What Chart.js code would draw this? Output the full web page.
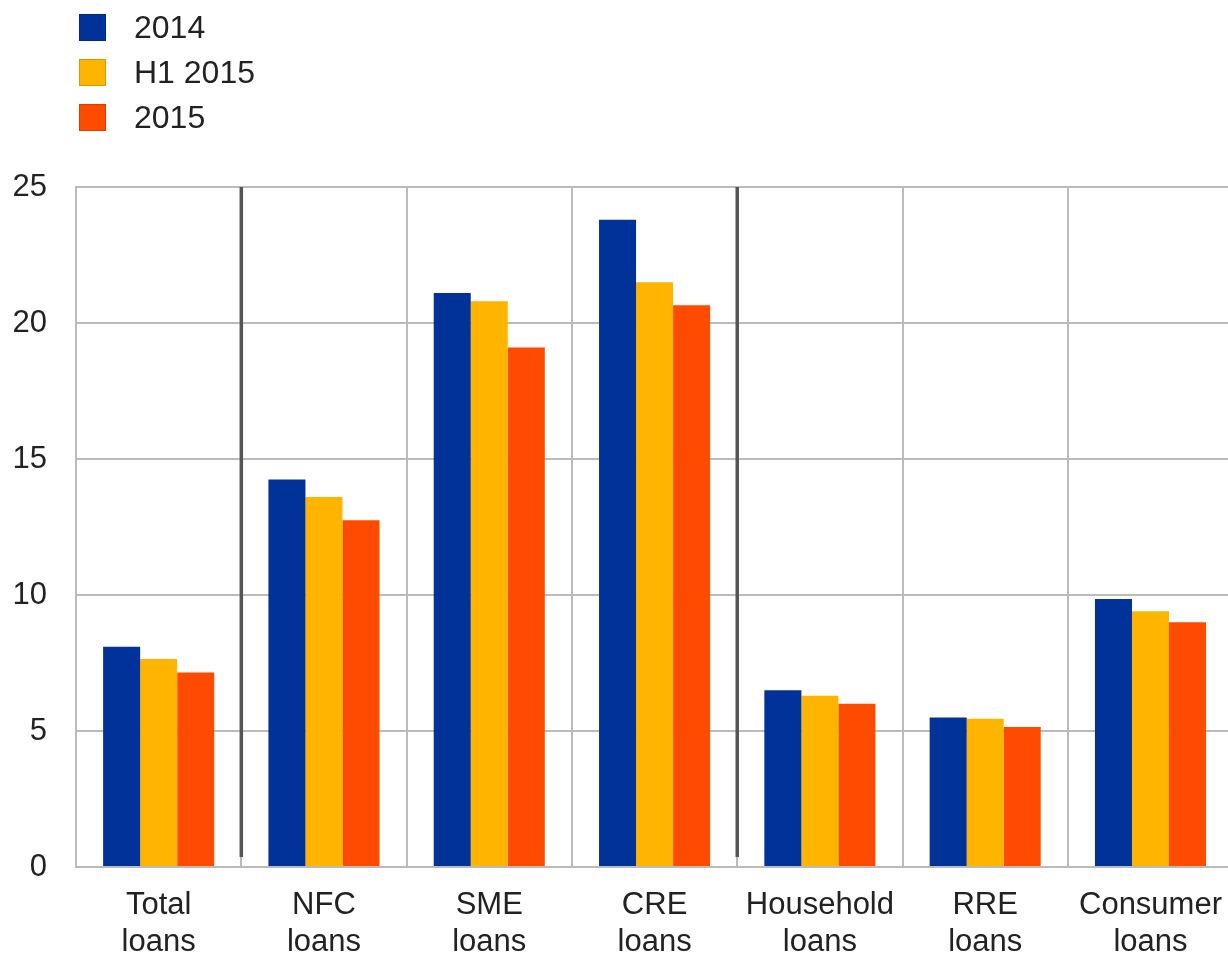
<!DOCTYPE html>
<html>
<head>
<meta charset="utf-8">
<script src="https://cdn.jsdelivr.net/npm/chart.js@4"></script>
<style>
  html, body { margin: 0; padding: 0; background: #fff; overflow: hidden; }
  #wrap { position: relative; width: 1242px; height: 955px; }
  #legend { position: absolute; left: 79px; top: 5px; font-family: "Liberation Sans", Arial, sans-serif; font-size: 32px; color: #222; }
  .item { display: flex; align-items: center; height: 45px; }
  .box { width: 27px; height: 27px; margin-right: 28px; box-sizing: border-box; border: 1px solid rgba(0,0,0,0.15); }
</style>
</head>
<body>
<div id="wrap">
  <canvas id="chart" width="1242" height="955"></canvas>
  <div id="legend"></div>
</div>
<script>
// categories (x axis, two lines each)
const categories = [
  ["Total", "loans"], ["NFC", "loans"], ["SME", "loans"], ["CRE", "loans"],
  ["Household", "loans"], ["RRE", "loans"], ["Consumer", "loans"]
];

// series
const seriesNames = ["2014", "H1 2015", "2015"];
const values2014   = [8.1, 14.25, 21.1, 23.8, 6.5, 5.5, 9.85];
const valuesH12015 = [7.65, 13.6, 20.8, 21.5, 6.3, 5.45, 9.4];
const values2015   = [7.15, 12.75, 19.1, 20.65, 6.0, 5.15, 9.0];
const colors = ["#003299", "#FFB400", "#FF4B00"];

// y axis
const yTicks = [0, 5, 10, 15, 20, 25];

// thick separators after these category indexes
const separatorsAfter = [0, 3];

const FONT = "'Liberation Sans', Arial, sans-serif";

// -------------------
// LEGEND (html, stacked)
// -------------------
const legendEl = document.getElementById("legend");
seriesNames.forEach((name, i) => {
  const row = document.createElement("div");
  row.className = "item";
  row.innerHTML = `<span class="box" style="background:${colors[i]}"></span><span>${name}</span>`;
  legendEl.appendChild(row);
});

// -------------------
// SEPARATOR PLUGIN
// -------------------
const separators = {
  id: "separators",
  afterDatasetsDraw(chart) {
    const x = chart.scales.x;
    const area = chart.chartArea;
    const c = chart.ctx;
    c.save();
    c.strokeStyle = "#555555";
    c.lineWidth = 3.5;
    separatorsAfter.forEach(i => {
      const px = (x.getPixelForValue(i) + x.getPixelForValue(i + 1)) / 2;
      c.beginPath();
      c.moveTo(px, area.top);
      c.lineTo(px, area.bottom - 10);
      c.stroke();
    });
    c.restore();
  }
};

// -------------------
// CHART
// -------------------
const ctx = document.getElementById("chart").getContext("2d");
new Chart(ctx, {
  type: "bar",
  data: {
    labels: categories,
    datasets: [
      { label: seriesNames[0], data: values2014, backgroundColor: colors[0] },
      { label: seriesNames[1], data: valuesH12015, backgroundColor: colors[1] },
      { label: seriesNames[2], data: values2015, backgroundColor: colors[2] }
    ]
  },
  options: {
    responsive: false,
    animation: false,
    layout: { padding: { top: 187, bottom: 0, left: 0, right: 0 } },
    datasets: { bar: { categoryPercentage: 0.672, barPercentage: 1.0 } },
    plugins: { legend: { display: false }, tooltip: { enabled: false } },
    scales: {
      x: {
        grid: { color: "#BBBBBB", lineWidth: 2, drawTicks: false, offset: true },
        border: { color: "#BBBBBB", width: 2 },
        ticks: {
          color: "#222",
          font: { family: FONT, size: 31, lineHeight: 1.2 },
          padding: 20,
          maxRotation: 0
        },
        afterFit(scale) { scale.height = 88; }
      },
      y: {
        min: 0,
        max: 25,
        afterBuildTicks(scale) { scale.ticks = yTicks.map(v => ({ value: v })); },
        grid: { color: "#BBBBBB", lineWidth: 2, drawTicks: false },
        border: { color: "#BBBBBB", width: 2 },
        ticks: {
          color: "#222",
          font: { family: FONT, size: 31 },
          padding: 29
        },
        afterFit(scale) { scale.width = 76; }
      }
    }
  },
  plugins: [separators]
});
</script>
</body>
</html>
